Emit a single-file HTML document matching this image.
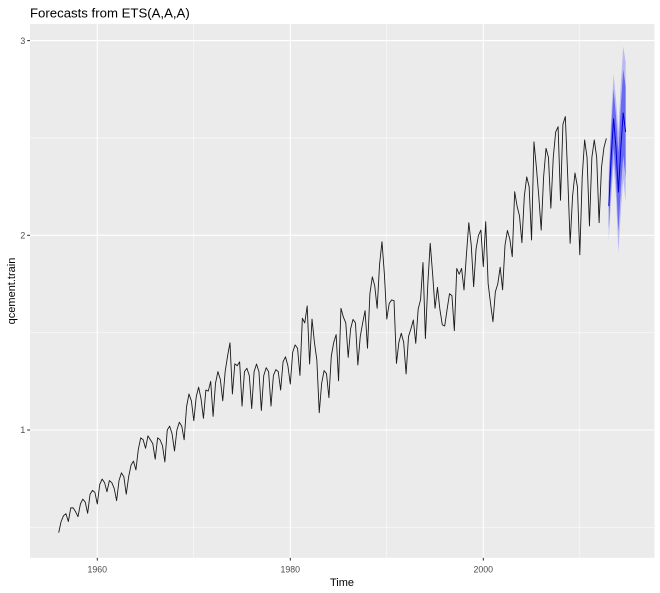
<!DOCTYPE html>
<html>
<head>
<meta charset="utf-8">
<style>
html,body{margin:0;padding:0;background:#fff;}
svg{display:block;}
text{font-family:"Liberation Sans",Arial,sans-serif;}
</style>
</head>
<body>
<svg width="660" height="593" viewBox="0 0 660 593" xmlns="http://www.w3.org/2000/svg">
  <rect x="0" y="0" width="660" height="593" fill="#ffffff"/>
  <rect x="30" y="24" width="624.5" height="533.8" fill="#EBEBEB"/>
  <g stroke="#ffffff" stroke-width="0.55">
    <line x1="30" x2="654.5" y1="527.35" y2="527.35"/>
    <line x1="30" x2="654.5" y1="332.65" y2="332.65"/>
    <line x1="30" x2="654.5" y1="137.95" y2="137.95"/>
    <line y1="24" y2="557.8" x1="193.8" x2="193.8"/>
    <line y1="24" y2="557.8" x1="386.8" x2="386.8"/>
    <line y1="24" y2="557.8" x1="579.8" x2="579.8"/>
  </g>
  <g stroke="#ffffff" stroke-width="1.1">
    <line x1="30" x2="654.5" y1="430" y2="430"/>
    <line x1="30" x2="654.5" y1="235.3" y2="235.3"/>
    <line x1="30" x2="654.5" y1="40.6" y2="40.6"/>
    <line y1="24" y2="557.8" x1="97.3" x2="97.3"/>
    <line y1="24" y2="557.8" x1="290.3" x2="290.3"/>
    <line y1="24" y2="557.8" x1="483.3" x2="483.3"/>
  </g>
  <g transform="matrix(2.4125 0 0 -194.7 58.7 624.7)">
    <polyline fill="none" stroke="#1a1a1a" stroke-width="0.9" vector-effect="non-scaling-stroke" stroke-linejoin="round" points="0,0.473 1,0.53 2,0.56 3,0.57 4,0.53 5,0.60 6,0.60 7,0.58 8,0.555 9,0.62 10,0.645 11,0.63 12,0.572 13,0.67 14,0.69 15,0.68 16,0.62 17,0.72 18,0.748 19,0.73 20,0.683 21,0.74 22,0.73 23,0.70 24,0.637 25,0.74 26,0.78 27,0.76 28,0.67 29,0.76 30,0.82 31,0.84 32,0.795 33,0.90 34,0.96 35,0.95 36,0.906 37,0.97 38,0.95 39,0.93 40,0.85 41,0.96 42,0.95 43,0.92 44,0.836 45,1.00 46,1.02 47,0.98 48,0.892 49,1.00 50,1.04 51,1.02 52,0.95 53,1.12 54,1.185 55,1.15 56,1.048 57,1.17 58,1.22 59,1.16 60,1.06 61,1.205 62,1.20 63,1.25 64,1.07 65,1.24 66,1.30 67,1.26 68,1.15 69,1.30 70,1.38 71,1.448 72,1.185 73,1.34 74,1.33 75,1.35 76,1.123 77,1.30 78,1.317 79,1.28 80,1.11 81,1.30 82,1.339 83,1.30 84,1.10 85,1.28 86,1.32 87,1.30 88,1.123 89,1.28 90,1.31 91,1.30 92,1.205 93,1.35 94,1.376 95,1.33 96,1.236 97,1.40 98,1.437 99,1.42 100,1.28 101,1.574 102,1.55 103,1.637 104,1.339 105,1.57 106,1.45 107,1.36 108,1.089 109,1.24 110,1.305 111,1.29 112,1.166 113,1.38 114,1.45 115,1.49 116,1.253 117,1.625 118,1.58 119,1.55 120,1.373 121,1.52 122,1.568 123,1.55 124,1.334 125,1.48 126,1.55 127,1.613 128,1.42 129,1.70 130,1.787 131,1.74 132,1.625 133,1.85 134,1.967 135,1.80 136,1.57 137,1.65 138,1.668 139,1.664 140,1.342 141,1.45 142,1.497 143,1.45 144,1.288 145,1.48 146,1.52 147,1.565 148,1.445 149,1.62 150,1.67 151,1.86 152,1.47 153,1.75 154,1.959 155,1.80 156,1.625 157,1.733 158,1.62 159,1.54 160,1.534 161,1.62 162,1.70 163,1.69 164,1.51 165,1.83 166,1.80 167,1.83 168,1.719 169,1.90 170,2.065 171,1.95 172,1.736 173,1.93 174,2.00 175,2.027 176,1.839 177,2.07 178,1.753 179,1.65 180,1.556 181,1.71 182,1.75 183,1.836 184,1.72 185,1.95 186,2.025 187,1.98 188,1.89 189,2.224 190,2.15 191,2.10 192,1.962 193,2.20 194,2.30 195,2.25 196,1.976 197,2.48 198,2.35 199,2.20 200,2.027 201,2.30 202,2.447 203,2.40 204,2.139 205,2.40 206,2.53 207,2.558 208,2.18 209,2.57 210,2.61 211,2.30 212,1.959 213,2.20 214,2.32 215,2.25 216,1.90 217,2.30 218,2.49 219,2.40 220,2.048 221,2.40 222,2.49 223,2.40 224,2.065 225,2.35 226,2.45 227,2.498"/>
    <polygon fill="#B9B9F4" stroke="none" points="228,2.33 229,2.61 230,2.83 231,2.70 232,2.53 233,2.78 234,2.97 235,2.89 235,2.17 234,2.29 233,2.12 232,1.91 231,2.20 230,2.37 229,2.19 228,1.97"/>
    <polygon fill="#6A6AF0" stroke="none" points="228,2.268 229,2.537 230,2.75 231,2.614 232,2.423 233,2.666 234,2.852 235,2.765 235,2.295 234,2.408 233,2.234 232,2.017 231,2.286 230,2.45 229,2.263 228,2.032"/>
    <polyline fill="none" stroke="#0000D8" stroke-width="1" vector-effect="non-scaling-stroke" points="228,2.15 229,2.40 230,2.60 231,2.45 232,2.22 233,2.45 234,2.63 235,2.53"/>
  </g>
  <g stroke="#333333" stroke-width="1.05">
    <line x1="27.2" x2="30" y1="430" y2="430"/>
    <line x1="27.2" x2="30" y1="235.3" y2="235.3"/>
    <line x1="27.2" x2="30" y1="40.6" y2="40.6"/>
    <line y1="557.8" y2="560.6" x1="97.3" x2="97.3"/>
    <line y1="557.8" y2="560.6" x1="290.3" x2="290.3"/>
    <line y1="557.8" y2="560.6" x1="483.3" x2="483.3"/>
  </g>
  <g font-size="8.8" fill="#4D4D4D">
    <text x="25.3" y="433.2" text-anchor="end">1</text>
    <text x="25.3" y="238.5" text-anchor="end">2</text>
    <text x="25.3" y="43.8" text-anchor="end">3</text>
    <text x="97.3" y="572.3" text-anchor="middle">1960</text>
    <text x="290.3" y="572.3" text-anchor="middle">1980</text>
    <text x="483.3" y="572.3" text-anchor="middle">2000</text>
  </g>
  <text x="342" y="586" font-size="11" fill="#000" text-anchor="middle">Time</text>
  <text transform="translate(15.2,291) rotate(-90)" font-size="11" fill="#000" text-anchor="middle">qcement.train</text>
  <text x="30" y="17.3" font-size="13.2" fill="#000">Forecasts from ETS(A,A,A)</text>
</svg>
</body>
</html>
